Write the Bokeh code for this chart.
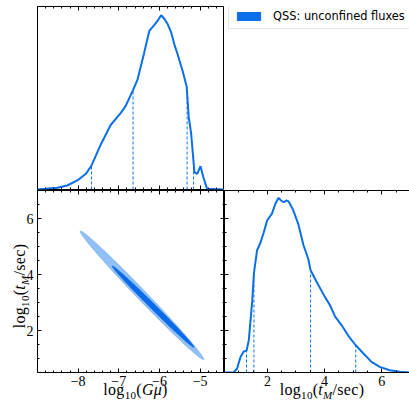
import numpy as np
from bokeh.plotting import figure
from bokeh.layouts import column, row
from bokeh.models import (Range1d, LinearAxis, FixedTicker, CustomJSTickFormatter,
                          Legend, LegendItem, Div)
from bokeh.core.properties import value
from bokeh.embed import file_html
from bokeh.resources import INLINE

# ---------------- data ----------------
# marginal posterior of log10(G mu)
gmu_x = [-9.0, -8.51, -8.27, -8.02, -7.81, -7.67, -7.44, -7.20, -6.95, -6.83, -6.65, -6.54,
         -6.38, -6.25, -6.14, -6.04, -5.96, -5.88, -5.80, -5.71, -5.63, -5.56, -5.43, -5.33,
         -5.28, -5.22, -5.14, -5.07, -4.99, -4.92, -4.83, -4.4]
gmu_pdf = [0.0, 0.01, 0.023, 0.052, 0.09, 0.138, 0.26, 0.37, 0.44, 0.48, 0.57, 0.63,
           0.78, 0.91, 0.94, 0.97, 1.0, 0.98, 0.95, 0.90, 0.83, 0.78, 0.68, 0.59,
           0.415, 0.32, 0.10, 0.09, 0.134, 0.07, 0.005, 0.0]
gmu_quantiles = [-7.67, -6.65, -5.32, -5.16]

# marginal posterior of log10(t_M / sec)
tm_x = [0.36, 0.82, 0.94, 1.06, 1.17, 1.27, 1.35, 1.47, 1.53, 1.64, 1.75, 1.87, 1.99, 2.16,
        2.28, 2.39, 2.48, 2.57, 2.66, 2.74, 2.91, 3.08, 3.26, 3.43, 3.51, 3.72, 4.02, 4.19,
        4.37, 4.60, 4.83, 5.09, 5.35, 5.64, 5.93, 6.28, 6.63, 6.97]
tm_pdf = [0.0, 0.0, 0.023, 0.089, 0.12, 0.125, 0.185, 0.41, 0.57, 0.70, 0.74, 0.80, 0.87, 0.91,
          0.966, 1.0, 0.985, 0.975, 0.985, 0.98, 0.927, 0.85, 0.73, 0.65, 0.585, 0.52, 0.43, 0.385,
          0.32, 0.27, 0.21, 0.156, 0.11, 0.061, 0.032, 0.013, 0.004, 0.0]
tm_quantiles = [1.27, 1.53, 3.51, 5.09]

# 2D credible regions (outer 95%, inner 68%): end points and horizontal half width at centre
contour_levels = ["95%", "68%"]
contour_x1 = [-7.94, -7.155]
contour_y1 = [5.55, 4.30]
contour_x2 = [-4.92, -5.155]
contour_y2 = [0.96, 1.40]
contour_halfwidth = [0.165, 0.09]
contour_fill = ["#92bff4", "#0a6ae8"]
contour_edge = ["#7db2f0", "#0a6ae8"]

legend_label = "QSS: unconfined fluxes"
x_ticks_gmu = [-8, -7, -6, -5]
y_ticks_tm = [2, 4, 6]
label_gmu_html = "log<sub>10</sub>(<i>G&mu;</i>)"
label_tm_html = "log<sub>10</sub>(<i>t</i><sub><i>M</i></sub>/sec)"

# ---------------- style ----------------
BLUE = "#0a6fe8"
SERIF = "Liberation Serif"
fmt_code = "return (tick < 0 ? '\u2212' : '') + Math.abs(tick).toFixed(0);"
gmu_range = (-9.0, -4.4)
tm_range = (0.5, 7.0)
gmu_minor = list(np.round(np.arange(gmu_range[0], gmu_range[1] + 0.01, 0.2), 3))
tm_minor = list(np.round(np.arange(tm_range[0], tm_range[1] + 0.01, 0.5), 3))


def add_axis(p, side, ticks, minor, labels=False, line=False):
    ax = LinearAxis(ticker=FixedTicker(ticks=ticks, minor_ticks=minor),
                    major_tick_in=4, major_tick_out=0, minor_tick_in=2, minor_tick_out=0,
                    major_tick_line_color="black", minor_tick_line_color="black",
                    major_tick_line_width=1, minor_tick_line_width=1,
                    axis_line_color="black" if line else None, axis_line_width=1)
    if labels:
        ax.formatter = CustomJSTickFormatter(code=fmt_code)
        ax.major_label_text_font = SERIF
        ax.major_label_text_font_size = "14px"
        ax.major_label_text_color = "black"
        ax.major_label_standoff = 3 if side in ("below", "above") else 4
    else:
        ax.formatter = CustomJSTickFormatter(code="return '';")
        ax.major_label_text_font_size = "0px"
        ax.major_label_standoff = 0
    p.add_layout(ax, side)
    return ax


def base_fig(w, h, xr, yr, mb):
    p = figure(width=w, height=h, x_range=xr, y_range=yr, output_backend="svg",
               toolbar_location=None, x_axis_location=None, y_axis_location=None,
               min_border_left=mb[0], min_border_right=mb[1], min_border_top=mb[2],
               min_border_bottom=mb[3])
    p.grid.visible = False
    p.background_fill_color = "white"
    p.border_fill_color = "white"
    p.outline_line_color = "black"
    p.outline_line_width = 1
    return p


# ---- top-left: 1D marginal of log10(G mu)
p1 = base_fig(224, 190, Range1d(*gmu_range), Range1d(0, 1.05), (37, 0, 6, 1))
add_axis(p1, "below", x_ticks_gmu, gmu_minor)
add_axis(p1, "above", x_ticks_gmu, gmu_minor)
p1.line(gmu_x, gmu_pdf, line_color=BLUE, line_width=2)
gq_h = np.interp(gmu_quantiles, gmu_x, gmu_pdf)
p1.segment(x0=gmu_quantiles, y0=[0] * 4, x1=gmu_quantiles, y1=gq_h,
           line_color=BLUE, line_width=1, line_dash="3 2")

# ---- top-right: legend only
p2 = base_fig(185, 190, Range1d(0, 1), Range1d(0, 1), (0, 0, 0, 0))
p2.outline_line_color = None
r_leg = p2.quad(left=[np.nan], right=[np.nan], top=[np.nan], bottom=[np.nan],
                fill_color=BLUE, line_color=BLUE)
leg = Legend(items=[LegendItem(label=value(legend_label), renderers=[r_leg])],
             location=(4, 160), padding=5, margin=0, spacing=0,
             glyph_width=29, glyph_height=10, label_height=13, label_standoff=10,
             label_text_font="DejaVu Sans", label_text_font_size="11.4px",
             label_text_color="black", label_text_baseline="middle",
             border_line_color="#cccccc", border_line_width=1,
             background_fill_color="white", background_fill_alpha=1)
p2.add_layout(leg)

# ---- bottom-left: 2D credible regions
p3 = base_fig(224, 212, Range1d(*gmu_range), Range1d(*tm_range), (37, 0, 0, 30))
add_axis(p3, "below", x_ticks_gmu, gmu_minor, labels=True)
add_axis(p3, "left", y_ticks_tm, tm_minor, labels=True)
add_axis(p3, "above", x_ticks_gmu, gmu_minor)
add_axis(p3, "right", y_ticks_tm, tm_minor)
t = np.linspace(0, 2 * np.pi, 200)
for x1, y1, x2, y2, hw, fc, ec in zip(contour_x1, contour_y1, contour_x2, contour_y2,
                                      contour_halfwidth, contour_fill, contour_edge):
    cx, cy = (x1 + x2) / 2, (y1 + y2) / 2
    ax_, ay_ = (x2 - x1) / 2, (y2 - y1) / 2
    xs = cx + ax_ * np.cos(t) + hw * np.sin(t)
    ys = cy + ay_ * np.cos(t)
    p3.patch(xs, ys, fill_color=fc, line_color=ec, line_width=0.8)

# ---- bottom-right: 1D marginal of log10(t_M/sec)
p4 = base_fig(185, 212, Range1d(0.5, 6.97), Range1d(*tm_range), (0, 0, 0, 30))
p4.outline_line_color = None
p4.extra_y_ranges = {"dens": Range1d(0, 1.042)}
add_axis(p4, "below", y_ticks_tm, tm_minor, labels=True, line=True)
add_axis(p4, "left", y_ticks_tm, tm_minor, line=True)
add_axis(p4, "above", y_ticks_tm, tm_minor, line=True)
p4.line(tm_x, tm_pdf, line_color=BLUE, line_width=2, y_range_name="dens")
tq_h = np.interp(tm_quantiles, tm_x, tm_pdf)
p4.segment(x0=tm_quantiles, y0=[0] * 4, x1=tm_quantiles, y1=tq_h, y_range_name="dens",
           line_color=BLUE, line_width=1, line_dash="3 2")

# ---- axis titles (rich text: subscripts and italics), overlaid on the figure borders
base_css = ("position:absolute; font-family:'Liberation Serif', serif; font-size:16px; "
            "color:black; white-space:nowrap; line-height:16px; text-align:center; "
            "letter-spacing:0.3px;")
sub_css = "<style>sub{font-size:11px; vertical-align:-4px; line-height:0;}</style>"
html = (sub_css +
        f"<div style=\"{base_css} left:37px; top:-25px; width:187px;\">{label_gmu_html}</div>"
        f"<div style=\"{base_css} left:224px; top:-25px; width:186px;\">{label_tm_html}</div>"
        f"<div style=\"{base_css} left:7px; top:-30px; width:182px; transform:rotate(-90deg); "
        f"transform-origin:left top;\">{label_tm_html}</div>")
titles = Div(text=html, width=409, height=0, styles={"position": "relative", "overflow": "visible"})

layout = column(row(p1, p2), row(p3, p4), titles)
open("out.html", "w").write(file_html(layout, INLINE))
